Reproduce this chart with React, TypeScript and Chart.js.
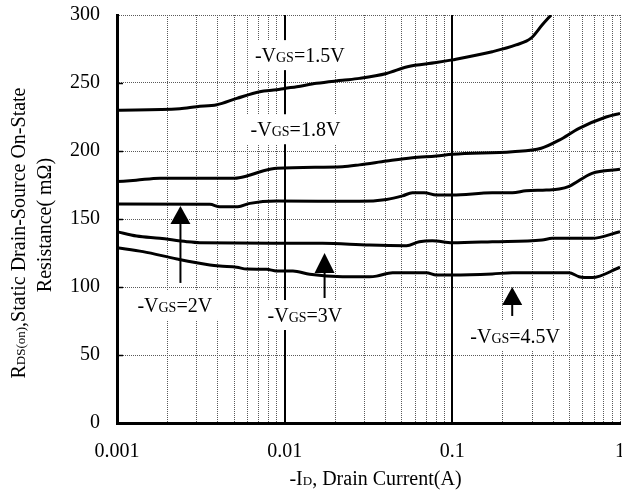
import React, { useEffect, useRef } from 'react';
import { Chart, registerables } from 'chart.js';

Chart.register(...registerables);

// ---------- data ----------
const xTickLabels = ['0.001', '0.01', '0.1', '1'];
const yTickStep = 50;

const vgs15X = [0.001, 0.00237, 0.00299, 0.00394, 0.00518, 0.0071, 0.00896, 0.01, 0.0118, 0.0155, 0.0221, 0.0279, 0.0405, 0.054, 0.0803, 0.1, 0.173, 0.24, 0.295, 0.343, 0.388];
const vgs15Y = [230, 231, 232.6, 234, 238.7, 243.6, 245, 246, 247.3, 249.8, 252, 253.4, 257, 262, 265, 267, 273, 278, 283, 292.6, 300];

const vgs18X = [0.001, 0.0013, 0.0018, 0.00504, 0.00594, 0.0074, 0.00896, 0.0221, 0.0279, 0.0405, 0.0578, 0.0803, 0.1, 0.228, 0.339, 0.434, 0.57, 0.826, 1];
const vgs18Y = [177.5, 178.5, 180, 180, 181.6, 185.3, 187.3, 188.5, 189.8, 192.6, 195, 196.3, 197.6, 199.5, 202, 208, 216.7, 225, 227.7];

const vgs2X = [0.001, 0.00358, 0.0041, 0.00525, 0.0062, 0.00896, 0.0279, 0.0405, 0.0504, 0.0578, 0.0681, 0.0803, 0.1, 0.173, 0.228, 0.275, 0.363, 0.434, 0.497, 0.681, 1];
const vgs2Y = [161, 160.8, 159, 159, 161.5, 163.2, 163, 164.4, 167, 169.3, 169.3, 167.6, 167.6, 169.3, 169.3, 170.8, 171.3, 172, 174, 183.6, 186.5];

const vgs3X = [0.001, 0.00131, 0.0018, 0.00261, 0.00312, 0.0168, 0.0321, 0.0532, 0.0636, 0.076, 0.1, 0.173, 0.343, 0.394, 0.681, 1];
const vgs3Y = [140.7, 137.5, 135.8, 133.3, 132.6, 132.1, 130.8, 130.4, 133.3, 134, 132.5, 133.3, 134.6, 135.8, 135.8, 140.7];

const vgs45X = [0.001, 0.00143, 0.00228, 0.00358, 0.0041, 0.00518, 0.00594, 0.00781, 0.00896, 0.0112, 0.0141, 0.0221, 0.0321, 0.0353, 0.044, 0.07, 0.0803, 0.1, 0.173, 0.228, 0.497, 0.57, 0.681, 1];
const vgs45Y = [128.9, 126, 120.6, 116.2, 115.4, 114.5, 113.2, 113, 111.8, 111.8, 109.3, 107.6, 107.6, 108, 110.5, 110.5, 108.8, 108.8, 109.6, 110.5, 110.5, 107.6, 106.9, 114.5];

const seriesLabels = ['1.5V', '1.8V', '2V', '3V', '4.5V'];

// annotation placement (data coordinates)
const labelAt = [
  { x: 0.0123, y: 270.5 },
  { x: 0.0116, y: 216 },
  { x: 0.00221, y: 86.8 },
  { x: 0.0132, y: 79.4 },
  { x: 0.237, y: 64.3 },
];
const arrowAt = [
  { x: 0.00239, tip: 159.6, base: 146.3, end: 103 },
  { x: 0.0173, tip: 125, base: 110.3, end: 91.9 },
  { x: 0.2276, tip: 100, base: 86.8, end: 78.7 },
];

const FONT = '"Liberation Serif", "Times New Roman", serif';

function pts(xs: number[], ys: number[]) {
  return xs.map((x, i) => ({ x, y: ys[i] }));
}

function measureParts(ctx: CanvasRenderingContext2D, parts: [string, number][]) {
  let w = 0;
  for (const [t, s] of parts) {
    ctx.font = `${s}px ${FONT}`;
    w += ctx.measureText(t).width;
  }
  return w;
}

function drawParts(ctx: CanvasRenderingContext2D, parts: [string, number][], cx: number, baseY: number) {
  const w = measureParts(ctx, parts);
  let xx = cx - w / 2;
  ctx.textAlign = 'left';
  ctx.textBaseline = 'alphabetic';
  for (const [t, s] of parts) {
    ctx.font = `${s}px ${FONT}`;
    ctx.fillText(t, xx, baseY);
    xx += ctx.measureText(t).width;
  }
  return w;
}

const overlay = {
  id: 'overlay',
  beforeDatasetsDraw(chart: any) {
    const { ctx, chartArea: a, scales } = chart;
    const xs = scales.x;
    const ys = scales.y;
    ctx.save();
    // solid decade lines
    ctx.strokeStyle = '#000';
    ctx.lineWidth = 2;
    for (const v of [0.01, 0.1]) {
      const px = Math.round(xs.getPixelForValue(v));
      ctx.beginPath();
      ctx.moveTo(px, a.top);
      ctx.lineTo(px, a.bottom);
      ctx.stroke();
    }
    // inward ticks on left axis
    ctx.lineWidth = 1.5;
    for (let v = yTickStep; v < 300; v += yTickStep) {
      const py = Math.round(ys.getPixelForValue(v)) + 0.5;
      ctx.beginPath();
      ctx.moveTo(a.left, py);
      ctx.lineTo(a.left + 6, py);
      ctx.stroke();
    }
    // labels with white boxes
    labelAt.forEach((p, i) => {
      const cx = xs.getPixelForValue(p.x);
      const cy = ys.getPixelForValue(p.y);
      const parts: [string, number][] = [['-V', 20], ['GS', 14], ['=' + seriesLabels[i], 20]];
      const w = measureParts(ctx, parts);
      ctx.fillStyle = '#fff';
      ctx.fillRect(cx - w / 2 - 7, cy - 15, w + 14, 30);
      ctx.fillStyle = '#000';
      drawParts(ctx, parts, cx, cy + 7);
    });
    // arrows
    ctx.fillStyle = '#000';
    ctx.strokeStyle = '#000';
    ctx.lineWidth = 2;
    for (const ar of arrowAt) {
      const px = xs.getPixelForValue(ar.x);
      const tip = ys.getPixelForValue(ar.tip);
      const base = ys.getPixelForValue(ar.base);
      const end = ys.getPixelForValue(ar.end);
      ctx.beginPath();
      ctx.moveTo(px, base);
      ctx.lineTo(px, end);
      ctx.stroke();
      ctx.beginPath();
      ctx.moveTo(px, tip);
      ctx.lineTo(px - 10, base);
      ctx.lineTo(px + 10, base);
      ctx.closePath();
      ctx.fill();
    }
    ctx.restore();
  },
  afterDraw(chart: any) {
    const { ctx, chartArea: a } = chart;
    ctx.save();
    ctx.fillStyle = '#000';
    // x title
    drawParts(ctx, [['-I', 20], ['D', 13], [', Drain Current(A)', 20]], (a.left + a.right) / 2 + 7, 485);
    // y title
    ctx.save();
    ctx.translate(25, 233);
    ctx.rotate(-Math.PI / 2);
    drawParts(ctx, [['R', 20], ['DS(on)', 13], [',Static Drain-Source On-State', 20]], 0, 0);
    ctx.restore();
    ctx.save();
    ctx.translate(51, 225);
    ctx.rotate(-Math.PI / 2);
    drawParts(ctx, [['Resistance( mΩ)', 20]], 0, 0);
    ctx.restore();
    ctx.restore();
  },
};

export default function App() {
  const ref = useRef<HTMLCanvasElement>(null);
  useEffect(() => {
    if (!ref.current) return;
    const mk = (xs: number[], ys: number[], label: string) => ({
      label,
      data: pts(xs, ys),
      borderColor: '#000',
      backgroundColor: '#000',
      borderWidth: 3,
      pointRadius: 0,
      cubicInterpolationMode: 'monotone' as const,
      fill: false,
    });
    const chart = new Chart(ref.current, {
      type: 'line',
      data: {
        datasets: [
          mk(vgs15X, vgs15Y, seriesLabels[0]),
          mk(vgs18X, vgs18Y, seriesLabels[1]),
          mk(vgs2X, vgs2Y, seriesLabels[2]),
          mk(vgs3X, vgs3Y, seriesLabels[3]),
          mk(vgs45X, vgs45Y, seriesLabels[4]),
        ],
      },
      options: {
        responsive: false,
        animation: false,
        events: [],
        layout: { padding: { top: 15, right: 2, left: 0, bottom: 0 } },
        plugins: { legend: { display: false }, tooltip: { enabled: false } },
        scales: {
          x: {
            type: 'logarithmic',
            min: 0.001,
            max: 1,
            grid: { color: '#5a5a5a', lineWidth: 1, drawTicks: false },
            border: { display: true, color: '#000', width: 3, dash: [1, 1] },
            afterBuildTicks: (scale: any) => {
              scale.ticks = scale.ticks.filter((t: any) => {
                const m = t.value / Math.pow(10, Math.floor(Math.log10(t.value) + 1e-9));
                return Math.abs(m - Math.round(m)) < 1e-6;
              });
            },
            afterFit: (scale: any) => {
              scale.height = 69;
              scale.paddingLeft = 0;
              scale.paddingRight = 0;
            },
            ticks: {
              autoSkip: false,
              maxRotation: 0,
              padding: 17,
              color: '#000',
              font: { family: FONT, size: 20 },
              major: { enabled: false },
              callback: (value: any) => {
                const l = Math.log10(Number(value));
                if (Math.abs(l - Math.round(l)) < 1e-6) return xTickLabels[Math.round(l) + 3];
                return '';
              },
            },
          },
          y: {
            type: 'linear',
            min: 0,
            max: 300,
            grid: { color: '#5a5a5a', lineWidth: 1, drawTicks: false },
            border: { display: true, color: '#000', width: 3, dash: [1, 1] },
            afterFit: (scale: any) => {
              scale.width = 117;
              scale.paddingTop = 0;
              scale.paddingBottom = 0;
            },
            ticks: {
              stepSize: yTickStep,
              padding: 17,
              color: '#000',
              font: { family: FONT, size: 20 },
            },
          },
        },
      },
      plugins: [overlay],
    });
    return () => chart.destroy();
  }, []);
  return (
    <div style={{ position: 'fixed', left: 0, top: 0, width: 622, height: 492, background: '#fff' }}>
      <canvas ref={ref} width={622} height={492} style={{ display: 'block' }} />
    </div>
  );
}
